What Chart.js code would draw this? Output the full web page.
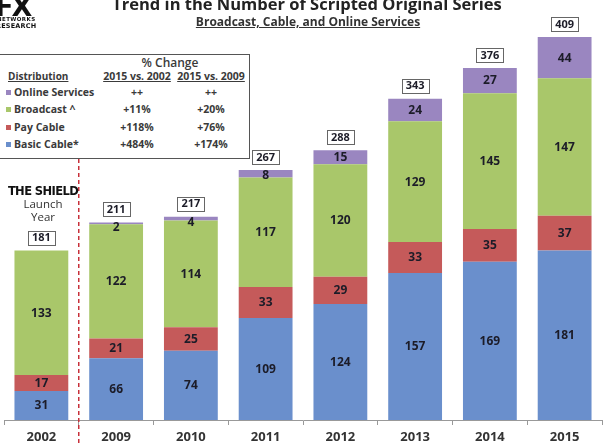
<!DOCTYPE html>
<html><head><meta charset="utf-8">
<script src="https://cdn.jsdelivr.net/npm/chart.js@4"></script>
<style>
html,body{margin:0;padding:0;background:#fff;}
#wrap{position:relative;width:609px;height:444px;overflow:hidden;font-family:"Open Sans",sans-serif;color:#333;}
canvas{position:absolute;left:0;top:0;}
.t{position:absolute;white-space:nowrap;line-height:1;}
.c{transform:translateX(-50%);}
.u{text-decoration:underline;}
.sq{display:inline-block;width:5px;height:5px;margin-right:3px;vertical-align:middle;position:relative;top:-1px;}
.lg{font-size:10.5px;font-weight:700;color:#3a3a3a;}
</style></head><body>
<div id="wrap">
<canvas id="c" width="609" height="444"></canvas>

<div class="t" style="left:-5px;top:-7px;font-family:'DejaVu Sans';font-weight:900;font-size:27px;color:#111;letter-spacing:-2px;">FX</div>
<div class="t" style="left:-3px;top:17px;font-family:'DejaVu Sans';font-weight:700;font-size:5.5px;color:#111;letter-spacing:0.4px;">NETWORKS</div>
<div class="t" style="left:-4px;top:23px;font-family:'DejaVu Sans';font-weight:700;font-size:6.5px;color:#111;letter-spacing:0.2px;">RESEARCH</div>

<div class="t c" style="left:307px;top:-4px;font-size:16.5px;font-weight:700;color:#222;">Trend in the Number of Scripted Original Series</div>
<div class="t c u" style="left:308px;top:16px;font-size:12px;font-weight:700;color:#333;">Broadcast, Cable, and Online Services</div>

<div style="position:absolute;left:-2px;top:54px;width:250px;height:103px;border:1.5px solid #555;background:#fff;"></div>
<div class="t c" style="left:170px;top:57px;font-size:12px;font-weight:600;color:#3a3a3a;">% Change</div>
<div class="t u lg" style="left:8px;top:71px;font-size:10px;">Distribution</div>
<div class="t c u lg" style="left:137px;top:71px;">2015 vs. 2002</div>
<div class="t c u lg" style="left:211px;top:71px;">2015 vs. 2009</div>

<div class="t lg" style="left:6px;top:87px;"><span class="sq" style="background:#9a86c0"></span>Online Services</div>
<div class="t lg" style="left:6px;top:104px;"><span class="sq" style="background:#a9c76a"></span>Broadcast ^</div>
<div class="t lg" style="left:6px;top:122px;"><span class="sq" style="background:#c55a5a"></span>Pay Cable</div>
<div class="t lg" style="left:6px;top:139px;"><span class="sq" style="background:#6a8fcc"></span>Basic Cable*</div>

<div class="t c lg" style="left:137px;top:87px;">++</div>
<div class="t c lg" style="left:211px;top:87px;">++</div>
<div class="t c lg" style="left:137px;top:104px;">+11%</div>
<div class="t c lg" style="left:211px;top:104px;">+20%</div>
<div class="t c lg" style="left:137px;top:122px;">+118%</div>
<div class="t c lg" style="left:211px;top:122px;">+76%</div>
<div class="t c lg" style="left:137px;top:139px;">+484%</div>
<div class="t c lg" style="left:211px;top:139px;">+174%</div>

<div class="t c" style="left:43px;top:186px;font-size:11.5px;font-weight:800;color:#111;font-family:'DejaVu Sans';letter-spacing:-0.6px;">THE SHIELD</div>
<div class="t c" style="left:43px;top:198px;font-size:11.5px;font-weight:400;color:#333;">Launch</div>
<div class="t c" style="left:43px;top:211px;font-size:11.5px;font-weight:400;color:#333;">Year</div>
</div>

<script>
const years = ['2002','2009','2010','2011','2012','2013','2014','2015'];
const basicCable = [31, 66, 74, 109, 124, 157, 169, 181];
const payCable = [17, 21, 25, 33, 29, 33, 35, 37];
const broadcast = [133, 122, 114, 117, 120, 129, 145, 147];
const onlineServices = [0, 2, 4, 8, 15, 24, 27, 44];
const totals = [181, 211, 217, 267, 288, 343, 376, 409];

const labelPlugin = {
  id: 'labels',
  afterDatasetsDraw(chart) {
    const ctx = chart.ctx;
    ctx.save();
    ctx.textAlign = 'center';
    ctx.textBaseline = 'middle';
    ctx.font = 'bold 12px "Open Sans", sans-serif';
    ctx.fillStyle = '#1c1c28';
    chart.data.datasets.forEach((ds, di) => {
      const meta = chart.getDatasetMeta(di);
      meta.data.forEach((bar, i) => {
        const v = ds.data[i];
        if (!v) return;
        const top = Math.min(bar.y, bar.base);
        let y = (bar.y + bar.base) / 2;
        if (y < top + 5) y = top + 5;
        ctx.fillText(String(v), bar.x, y + 0.5);
      });
    });
    // totals
    const xs = chart.scales.x, ys = chart.scales.y;
    ctx.font = 'bold 11px "Open Sans", sans-serif';
    totals.forEach((t, i) => {
      const x = xs.getPixelForValue(i);
      const top = ys.getPixelForValue(t);
      const cy = top - 13;
      const w = ctx.measureText(String(t)).width + 8;
      const h = 14;
      ctx.fillStyle = '#fff';
      ctx.fillRect(x - w / 2, cy - h / 2, w, h);
      ctx.strokeStyle = '#666';
      ctx.lineWidth = 1;
      ctx.strokeRect(Math.round(x - w / 2) + 0.5, Math.round(cy - h / 2) + 0.5, Math.round(w), h);
      ctx.fillStyle = '#1c1c28';
      ctx.fillText(String(t), x, cy + 0.5);
    });
    // dashed divider
    const dx = (xs.getPixelForValue(0) + xs.getPixelForValue(1)) / 2;
    ctx.strokeStyle = '#c8303a';
    ctx.lineWidth = 1.5;
    ctx.setLineDash([4, 3]);
    ctx.beginPath();
    ctx.moveTo(dx, 159);
    ctx.lineTo(dx, 444);
    ctx.stroke();
    ctx.restore();
  }
};

new Chart(document.getElementById('c'), {
  type: 'bar',
  data: {
    labels: years,
    datasets: [
      { label: 'Basic Cable*', data: basicCable, backgroundColor: '#6a8fcc' },
      { label: 'Pay Cable', data: payCable, backgroundColor: '#c55a5a' },
      { label: 'Broadcast ^', data: broadcast, backgroundColor: '#a9c76a' },
      { label: 'Online Services', data: onlineServices, backgroundColor: '#9a86c0' }
    ]
  },
  options: {
    responsive: false,
    animation: false,
    layout: { padding: { left: 4, right: 7, top: 37, bottom: 0 } },
    plugins: { legend: { display: false }, tooltip: { enabled: false }, title: { display: false } },
    datasets: { bar: { barPercentage: 0.72, categoryPercentage: 1, borderWidth: 0 } },
    scales: {
      x: {
        stacked: true,
        grid: { display: true, drawOnChartArea: false, tickLength: 5, color: '#999', offset: true },
        border: { display: true, color: '#999' },
        ticks: { padding: 4, color: '#333', font: { family: '"Open Sans", sans-serif', size: 13, weight: 'bold' } },
        afterFit(s) { s.height = 24; }
      },
      y: { stacked: true, display: false, min: 0, max: 409 }
    }
  },
  plugins: [labelPlugin]
});
</script>
</body></html>
